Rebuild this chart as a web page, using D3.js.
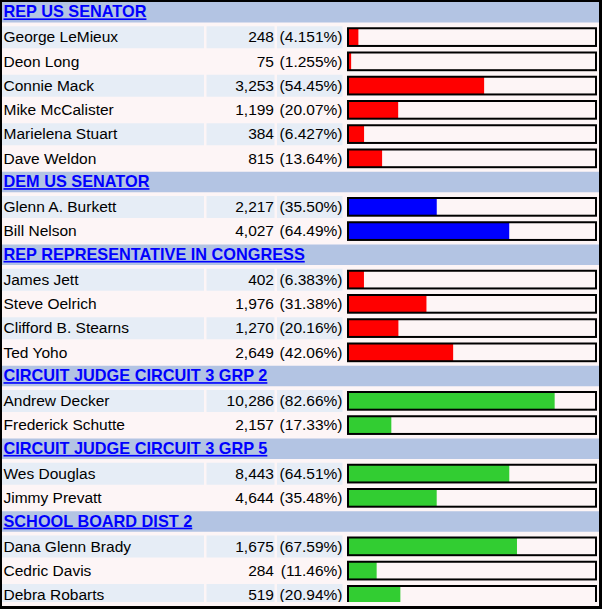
<!DOCTYPE html>
<html><head><meta charset="utf-8">
<script src="https://cdn.jsdelivr.net/npm/d3@7"></script>
<style>html,body{margin:0;padding:0;background:#fff;} svg{display:block;}</style>
</head><body><svg id="chart" width="602" height="609"></svg>
<script>
const races = ["REP US SENATOR", "DEM US SENATOR", "REP REPRESENTATIVE IN CONGRESS",
  "CIRCUIT JUDGE CIRCUIT 3 GRP 2", "CIRCUIT JUDGE CIRCUIT 3 GRP 5", "SCHOOL BOARD DIST 2"];
const candidates = [
  ["George LeMieux", "Deon Long", "Connie Mack", "Mike McCalister", "Marielena Stuart", "Dave Weldon"],
  ["Glenn A. Burkett", "Bill Nelson"],
  ["James Jett", "Steve Oelrich", "Clifford B. Stearns", "Ted Yoho"],
  ["Andrew Decker", "Frederick Schutte"],
  ["Wes Douglas", "Jimmy Prevatt"],
  ["Dana Glenn Brady", "Cedric Davis", "Debra Robarts"]
];
const votes = [
  [248, 75, 3253, 1199, 384, 815],
  [2217, 4027],
  [402, 1976, 1270, 2649],
  [10286, 2157],
  [8443, 4644],
  [1675, 284, 519]
];
const percents = [
  [4.151, 1.255, 54.45, 20.07, 6.427, 13.64],
  [35.50, 64.49],
  [6.383, 31.38, 20.16, 42.06],
  [82.66, 17.33],
  [64.51, 35.48],
  [67.59, 11.46, 20.94]
];
const barColors = ["#ff0000", "#0000ff", "#ff0000", "#32cd32", "#32cd32", "#32cd32"];

const rows = [];
races.forEach((r, k) => {
  rows.push({type: "header", label: r});
  candidates[k].forEach((c, j) => rows.push({
    type: "data", name: c, votes: votes[k][j], pct: percents[k][j],
    color: barColors[k], shaded: j % 2 === 0
  }));
});

const W = 602, H = 609;
const pitch = 24.25;
const yRow = d3.scaleBand().domain(d3.range(rows.length)).range([0, rows.length * pitch]);
const xBar = d3.scaleLinear().domain([0, 100]).range([0, 250]);
const fmtVotes = d3.format(",");
const fmtPct = d3.format(".4r");

const font = "'Liberation Sans', Arial, Helvetica, sans-serif";
const pink = "#fdf5f6", shade = "#e6edf6", headBg = "#b3c4e3";

const svg = d3.select("#chart");
svg.append("rect").attr("width", W).attr("height", H).attr("fill", "#000");
svg.append("rect").attr("x", 2).attr("y", 2).attr("width", 597).attr("height", 604).attr("fill", pink);

svg.append("defs").append("clipPath").attr("id", "clip")
  .append("rect").attr("x", 2).attr("y", 2).attr("width", 597).attr("height", 600);

const g = svg.append("g").attr("clip-path", "url(#clip)");

const rowG = g.selectAll("g.row").data(rows).join("g")
  .attr("class", "row")
  .attr("transform", (d, i) => `translate(0,${yRow(i)})`);

// headers
const heads = rowG.filter(d => d.type === "header");
heads.append("rect").attr("x", 2).attr("y", 2).attr("width", 597).attr("height", 20.5).attr("fill", headBg);
heads.append("text").attr("x", 3.5).attr("y", 17.4)
  .attr("font-family", font).attr("font-size", 16.3).attr("font-weight", "bold")
  .attr("fill", "#0000ff").style("text-decoration", "underline")
  .text(d => d.label);

// data rows
const data = rowG.filter(d => d.type === "data");
const cells = [[2, 202], [206.5, 68], [277, 65.5]];
cells.forEach(([cx, cw]) => {
  data.filter(d => d.shaded).append("rect")
    .attr("x", cx).attr("y", 2).attr("width", cw).attr("height", 22).attr("fill", shade);
});
data.append("text").attr("x", 3.5).attr("y", 18)
  .attr("font-family", font).attr("font-size", 15.5).attr("fill", "#000")
  .text(d => d.name);
data.append("text").attr("x", 274).attr("y", 18).attr("text-anchor", "end")
  .attr("font-family", font).attr("font-size", 15.5).attr("fill", "#000")
  .text(d => fmtVotes(d.votes));
data.append("text").attr("x", 342.5).attr("y", 18).attr("text-anchor", "end")
  .attr("font-family", font).attr("font-size", 15.5).attr("fill", "#000")
  .text(d => `(${fmtPct(d.pct)}%)`);

// bars
data.append("rect").attr("x", 348).attr("y", 4).attr("width", 248).attr("height", 17.7)
  .attr("fill", pink);
data.append("rect").attr("x", 348).attr("y", 4).attr("width", d => xBar(d.pct)).attr("height", 17.7)
  .attr("fill", d => d.color);
data.append("rect").attr("x", 348).attr("y", 4).attr("width", 248).attr("height", 17.7)
  .attr("fill", "none").attr("stroke", "#000").attr("stroke-width", 2);
</script></body></html>
